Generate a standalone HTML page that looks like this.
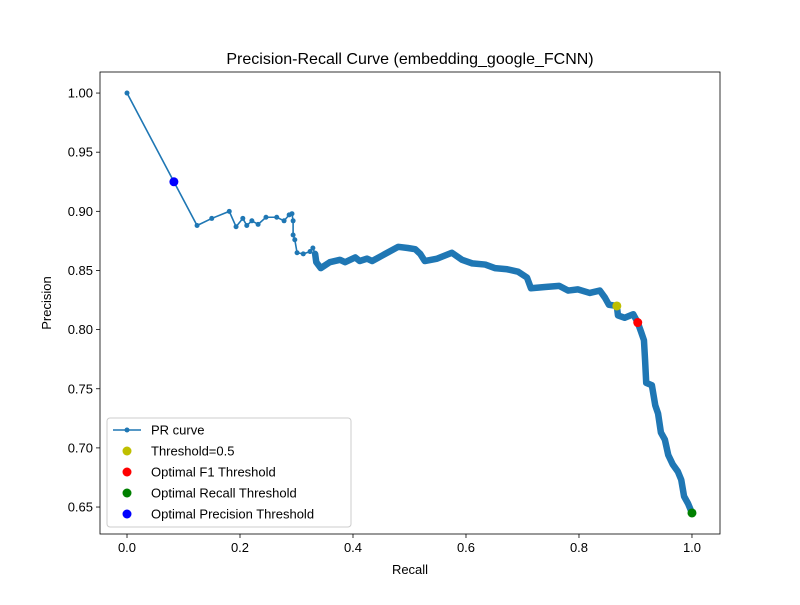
<!DOCTYPE html>
<html><head><meta charset="utf-8"><style>
body{margin:0;background:#fff}
svg text{font-family:"Liberation Sans","DejaVu Sans",sans-serif;fill:#000}
</style></head><body>
<svg id="chart" width="800" height="600">
<rect x="0" y="0" width="800" height="600" fill="#fff"/>
<text x="410" y="64" font-size="16" text-anchor="middle">Precision-Recall Curve (embedding_google_FCNN)</text>
<g id="plot"></g>
</svg>
<script>
const recall=[0,0.083,0.124,0.150,0.181,0.193,0.205,0.212,0.221,0.232,0.246,0.265,0.278,0.287,0.292,0.294,0.294,0.297,0.301,0.312,0.324,0.329,0.333,0.335,0.343,0.359,0.377,0.386,0.404,0.412,0.425,0.434,0.457,0.480,0.497,0.510,0.519,0.527,0.549,0.575,0.593,0.611,0.634,0.651,0.673,0.692,0.708,0.715,0.740,0.765,0.781,0.798,0.819,0.837,0.846,0.853,0.867,0.869,0.881,0.896,0.904,0.910,0.915,0.917,0.919,0.929,0.935,0.940,0.945,0.952,0.958,0.966,0.975,0.981,0.986,0.993,1.0];
const precision=[1.0,0.925,0.888,0.894,0.900,0.887,0.894,0.888,0.892,0.889,0.895,0.895,0.892,0.897,0.898,0.892,0.880,0.876,0.865,0.864,0.866,0.869,0.864,0.857,0.852,0.857,0.859,0.857,0.861,0.858,0.860,0.858,0.864,0.870,0.869,0.868,0.864,0.858,0.860,0.865,0.859,0.856,0.855,0.852,0.851,0.849,0.844,0.835,0.836,0.837,0.833,0.834,0.831,0.833,0.827,0.821,0.820,0.812,0.810,0.813,0.806,0.798,0.791,0.774,0.755,0.753,0.736,0.729,0.713,0.707,0.694,0.686,0.680,0.673,0.659,0.653,0.645];
const markerNames=["Threshold=0.5","Optimal F1 Threshold","Optimal Recall Threshold","Optimal Precision Threshold"];
const markerRecall=[0.867,0.904,1.0,0.083];
const markerPrecision=[0.820,0.806,0.645,0.925];
const markerColors=["#bfbf00","#ff0000","#008000","#0000ff"];
const xTicks=[0,0.2,0.4,0.6,0.8,1.0];
const xTickLabels=["0.0","0.2","0.4","0.6","0.8","1.0"];
const yTicks=[0.65,0.70,0.75,0.80,0.85,0.90,0.95,1.00];
const yTickLabels=["0.65","0.70","0.75","0.80","0.85","0.90","0.95","1.00"];
const denseStart=0.33;

const L=100,R=720,T=72,B=534;
const xMin=-0.0478,xMax=1.0496,yMin=0.6272,yMax=1.0178;
const X=v=>L+(v-xMin)/(xMax-xMin)*(R-L);
const Y=v=>B-(v-yMin)/(yMax-yMin)*(B-T);
const NS="http://www.w3.org/2000/svg";
const g=document.getElementById('plot');
function mk(tag,attrs,parent){const e=document.createElementNS(NS,tag);for(const k in attrs)e.setAttribute(k,attrs[k]);(parent||g).appendChild(e);return e;}

xTicks.forEach((t,i)=>{
  const tk=mk('line',{x1:X(t),x2:X(t),y1:B,y2:B+4,stroke:'#000','stroke-width':0.8});
  
  
  const tx=mk('text',{x:X(t),y:B+18,'font-size':13,'text-anchor':'middle'});tx.textContent=xTickLabels[i];
  
  
});
yTicks.forEach((t,i)=>{
  const tk=mk('line',{x1:L-4,x2:L,y1:Y(t),y2:Y(t),stroke:'#000','stroke-width':0.8});
  
  
  const tx=mk('text',{x:L-7,y:Y(t)+4.5,'font-size':13,'text-anchor':'end'});tx.textContent=yTickLabels[i];
  
  
});
let d='';recall.forEach((r,i)=>{d+=(i?'L':'M')+X(r)+','+Y(precision[i]);});
const line=mk('path',{d:d,fill:'none',stroke:'#1f77b4','stroke-width':1.6});


let d2='';let first=true;
recall.forEach((r,i)=>{if(r>=denseStart){d2+=(first?'M':'L')+X(r)+','+Y(precision[i]);first=false;}});
const dense=mk('path',{d:d2,fill:'none',stroke:'#1f77b4','stroke-width':6.5,'stroke-linejoin':'round','stroke-linecap':'round'});


recall.forEach((r,i)=>{
  if(r>=denseStart) return;
  const c=mk('circle',{cx:X(r),cy:Y(precision[i]),r:2.5,fill:'#1f77b4'});
  
  
});
markerRecall.forEach((r,i)=>{
  const c=mk('circle',{cx:X(r),cy:Y(markerPrecision[i]),r:4.5,fill:markerColors[i]});
  
  
});
const frame=mk('rect',{x:L,y:T,width:R-L,height:B-T,fill:'none',stroke:'#000','stroke-width':0.8});


const xl=mk('text',{x:(L+R)/2,y:574,'font-size':13,'text-anchor':'middle'});xl.textContent='Recall';


const yl=mk('text',{x:51,y:(T+B)/2,'font-size':13,'text-anchor':'middle',transform:'rotate(-90 51 '+(T+B)/2+')'});yl.textContent='Precision';


const lg=mk('g',{});


mk('rect',{x:107,y:418,width:244,height:109,rx:3,fill:'#fff','fill-opacity':0.8,stroke:'#ccc'},lg);
mk('line',{x1:113,x2:141,y1:430,y2:430,stroke:'#1f77b4','stroke-width':1.6},lg);
mk('circle',{cx:127,cy:430,r:2.5,fill:'#1f77b4'},lg);
const labels=['PR curve'].concat(markerNames);
labels.forEach((s,i)=>{
  const yy=430+i*21;
  if(i>0) mk('circle',{cx:127,cy:yy,r:4.5,fill:markerColors[i-1]},lg);
  const t=mk('text',{x:151,y:yy+4.5,'font-size':13},lg);t.textContent=s;
  
  
});
</script>
</body></html>
